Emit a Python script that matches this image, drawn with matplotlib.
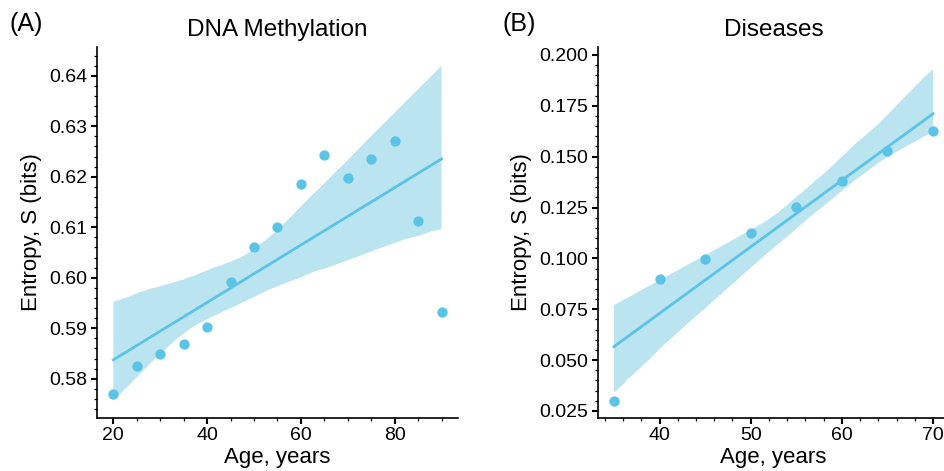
import numpy as np
import matplotlib
matplotlib.use("Agg")
import matplotlib.pyplot as plt
from matplotlib.ticker import AutoMinorLocator
import seaborn as sns

plt.rcParams['font.family'] = ['Liberation Sans', 'DejaVu Sans']

# panel A - DNA methylation
age_a = [20, 25, 30, 35, 40, 45, 50, 55, 60, 65, 70, 75, 80, 85, 90]
entropy_a = [0.5770, 0.5825, 0.5850, 0.5869, 0.5902, 0.5991, 0.6060, 0.6101,
             0.6186, 0.6243, 0.6197, 0.6236, 0.6271, 0.6113, 0.5933]

# panel B - diseases
age_b = [35, 40, 45, 50, 55, 60, 65, 70]
entropy_b = [0.0299, 0.0897, 0.0997, 0.1123, 0.1254, 0.1381, 0.1530, 0.1626]

pt_color = '#5bc3e6'
band_color = '#bae4f0'

fig = plt.figure(figsize=(9.45, 4.71), dpi=100)
ax1 = fig.add_axes([0.1026, 0.1132, 0.382, 0.787])
ax2 = fig.add_axes([0.6328, 0.1132, 0.3714, 0.787])


def panel(ax, x, y, title, letter, xlim, ylim, yfmt, letter_x):
    sns.regplot(x=np.array(x), y=np.array(y), ax=ax, color=pt_color, ci=95,
                n_boot=1000, seed=3,
                scatter_kws={'s': 55, 'alpha': 1, 'linewidths': 0, 'zorder': 3},
                line_kws={'lw': 2.0, 'zorder': 2})
    for c in ax.collections[1:]:
        c.set_facecolor(band_color)
        c.set_alpha(1)
        c.set_zorder(1)
    ax.set_xlim(*xlim)
    ax.set_ylim(*ylim)
    ax.spines['top'].set_visible(False)
    ax.spines['right'].set_visible(False)
    for s in ['left', 'bottom']:
        ax.spines[s].set_linewidth(1.2)
    ax.xaxis.set_minor_locator(AutoMinorLocator())
    ax.yaxis.set_minor_locator(AutoMinorLocator())
    ax.tick_params(which='major', length=4, width=1.5, labelsize=14, pad=3)
    ax.tick_params(which='minor', length=2.5, width=0.9)
    ax.yaxis.set_major_formatter(matplotlib.ticker.FormatStrFormatter(yfmt))
    ax.set_xlabel('Age, years', fontsize=16, labelpad=2)
    ax.set_ylabel('Entropy, S (bits)', fontsize=16, labelpad=5)
    ax.set_title(title, fontsize=17.5, pad=8)
    fig.text(letter_x, 0.950, letter, fontsize=18, ha='left', va='center')


panel(ax1, age_a, entropy_a, 'DNA Methylation', '(A)', (16.5, 93.5),
      (0.5723, 0.6457), '%.2f', 0.010)
panel(ax2, age_b, entropy_b, 'Diseases', '(B)', (33.25, 71.75),
      (0.0217, 0.2039), '%.3f', 0.532)

fig.savefig('out.png', dpi=100)
